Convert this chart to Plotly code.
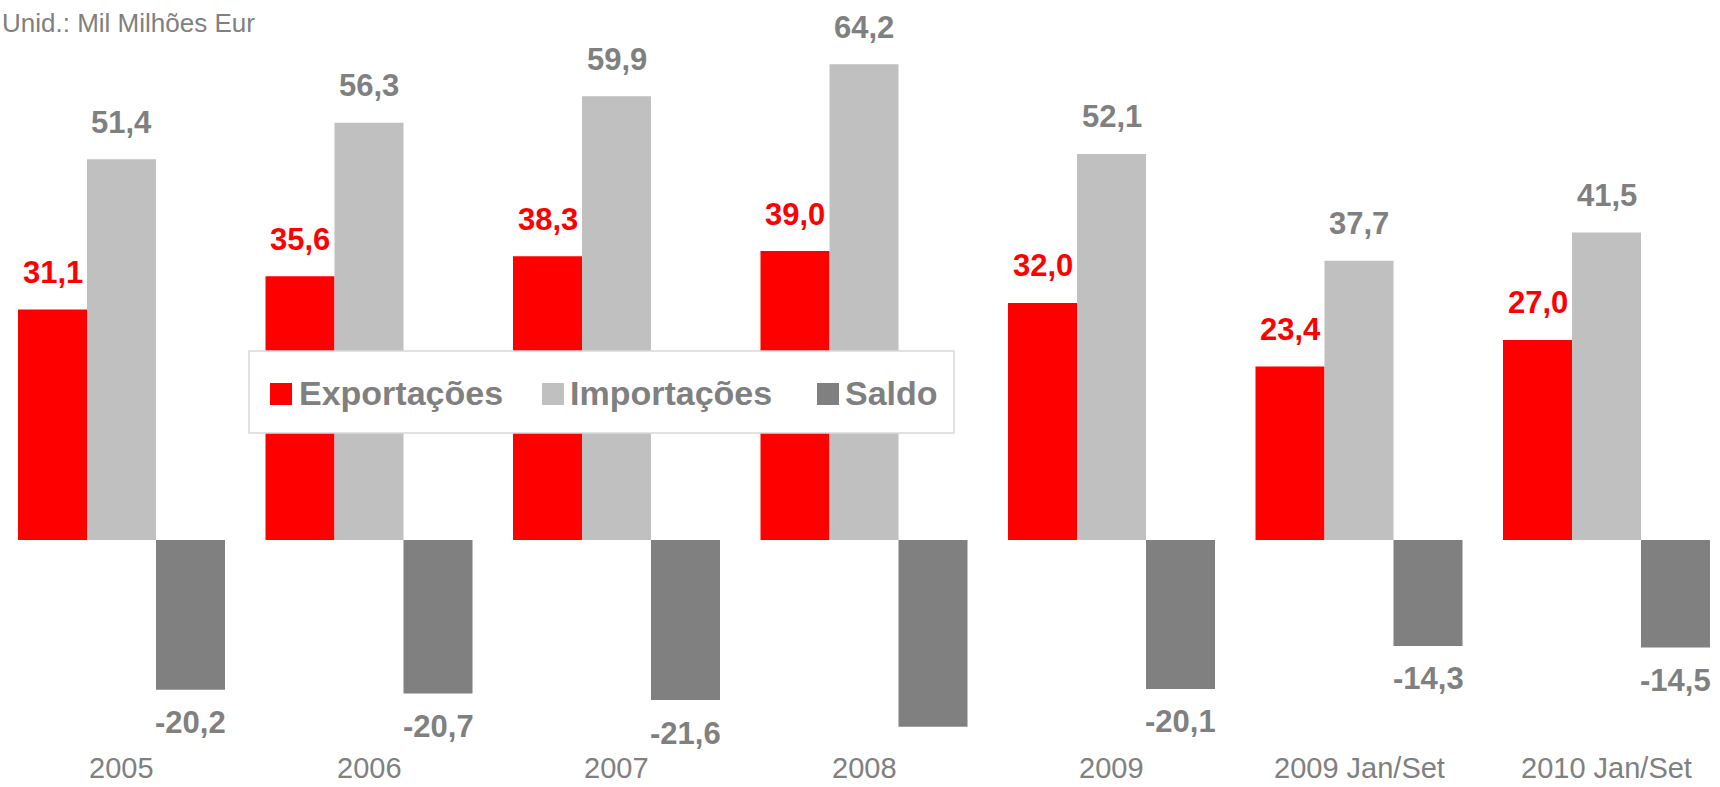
import plotly.graph_objects as go

categories = ["2005", "2006", "2007", "2008", "2009", "2009 Jan/Set", "2010 Jan/Set"]
exportacoes = [31.1, 35.6, 38.3, 39.0, 32.0, 23.4, 27.0]
importacoes = [51.4, 56.3, 59.9, 64.2, 52.1, 37.7, 41.5]
saldo = [-20.2, -20.7, -21.6, -25.2, -20.1, -14.3, -14.5]
saldo_shown = [True, True, True, False, True, True, True]

RED = "#FF0000"
LIGHT = "#C0C0C0"
DARK = "#808080"
FONT = "Liberation Sans, Arial, sans-serif"

W, H = 1720, 787
PH = H
ZERO_PX = 540
PX_PER_UNIT = 7.41
y_top = ZERO_PX / PX_PER_UNIT
y_bot = -(PH - ZERO_PX) / PX_PER_UNIT

CAT_SPACING = 247.5
FIRST_CENTER = 121.5
x0 = -FIRST_CENTER / CAT_SPACING
x1 = x0 + W / CAT_SPACING
BAR_W = 69 / CAT_SPACING
BARGAP = 1 - 3 * BAR_W


def fmt(v):
    return f"{v:.1f}".replace(".", ",")


fig = go.Figure()
for name, vals, col in [("Exportações", exportacoes, RED),
                        ("Importações", importacoes, LIGHT),
                        ("Saldo", saldo, DARK)]:
    fig.add_trace(go.Bar(x=categories, y=vals, name=name, marker=dict(color=col, line=dict(width=0)),
                         showlegend=False, hoverinfo="skip"))

annotations = []
series = [(exportacoes, RED, -BAR_W, [True] * 7),
          (importacoes, DARK, 0.0, [True] * 7),
          (saldo, DARK, BAR_W, saldo_shown)]
for vals, col, off, shown in series:
    for i, v in enumerate(vals):
        if not shown[i]:
            continue
        annotations.append(dict(
            x=i + off, y=v, xref="x", yref="y", text=f"<b>{fmt(v)}</b>", showarrow=False,
            yshift=37 if v >= 0 else -33, xanchor="center", yanchor="middle",
            font=dict(family=FONT, size=31, color=col)))

# category labels
for i, c in enumerate(categories):
    annotations.append(dict(x=i, y=1 - 768 / PH, xref="x", yref="paper", text=c, showarrow=False,
                            xanchor="center", yanchor="middle", borderpad=0,
                            font=dict(family=FONT, size=29, color=DARK)))

# title
annotations.append(dict(x=1 / W, y=1 - 23 / PH, xref="paper", yref="paper",
                        text="Unid.: Mil Milhões Eur", showarrow=False, xanchor="left", yanchor="middle",
                        borderpad=0, font=dict(family=FONT, size=26, color=DARK)))

shapes = []
# legend box
shapes.append(dict(type="rect", xref="paper", yref="paper", x0=249 / W, x1=954 / W,
                   y0=1 - 433 / PH, y1=1 - 351 / PH, fillcolor="white",
                   line=dict(color="#D9D9D9", width=1.5), layer="above"))
legend_items = [("Exportações", RED, 270, 297), ("Importações", LIGHT, 542, 568), ("Saldo", DARK, 817, 843)]
for label, col, sx, tx in legend_items:
    shapes.append(dict(type="rect", xref="paper", yref="paper", x0=sx / W, x1=(sx + 22) / W,
                       y0=1 - 405 / PH, y1=1 - 383 / PH, fillcolor=col, line=dict(width=0), layer="above"))
    annotations.append(dict(x=tx / W, y=1 - 393 / PH, xref="paper", yref="paper", text=f"<b>{label}</b>",
                            showarrow=False, xanchor="left", yanchor="middle",
                            font=dict(family=FONT, size=34, color=DARK)))

fig.update_layout(
    width=W, height=H, barmode="group", bargap=BARGAP, bargroupgap=0,
    margin=dict(l=0, r=0, t=0, b=0, pad=0, autoexpand=False),
    paper_bgcolor="white", plot_bgcolor="white",
    xaxis=dict(type="category", range=[x0, x1], showgrid=False, zeroline=False, showline=False,
               ticks="", showticklabels=False, automargin=False),
    yaxis=dict(range=[y_bot, y_top], visible=False, showgrid=False, zeroline=False, automargin=False),
    annotations=annotations, shapes=shapes, showlegend=False,
)
fig.write_html("out.html", config={"displayModeBar": False},
               post_script="document.body.style.margin='0';document.body.style.padding='0';"
                           "document.body.style.overflow='hidden';")
